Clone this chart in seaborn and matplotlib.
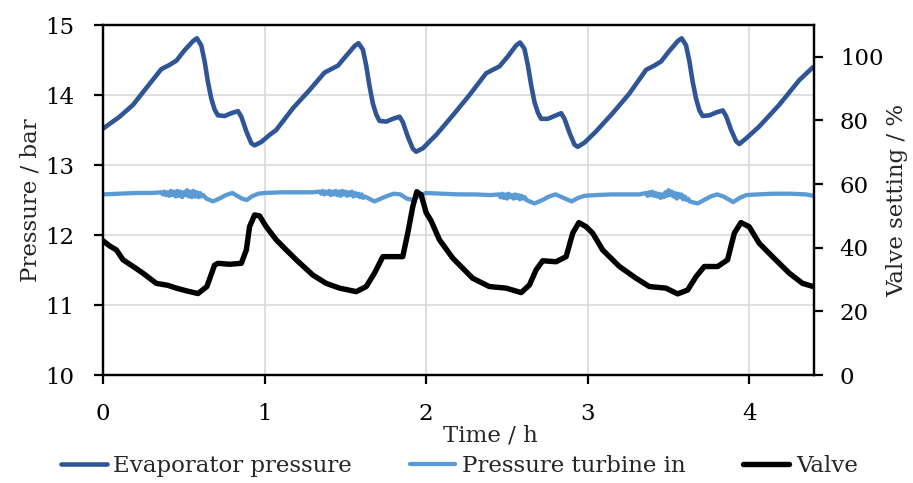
import numpy as np
import pandas as pd
import matplotlib
matplotlib.use("Agg")
import matplotlib.pyplot as plt
import seaborn as sns

# ---- data ----
evap_t = [0.000, 0.103, 0.186, 0.268, 0.361, 0.412, 0.454, 0.505, 0.557, 0.581, 0.608, 0.629,
          0.649, 0.670, 0.691, 0.711, 0.753, 0.794, 0.835, 0.856, 0.887, 0.918, 0.938, 0.980,
          1.031, 1.072, 1.175, 1.278, 1.371, 1.412, 1.454, 1.505, 1.557, 1.581, 1.608, 1.629,
          1.649, 1.670, 1.691, 1.711, 1.753, 1.794, 1.835, 1.856, 1.887, 1.918, 1.938, 1.980,
          2.031, 2.062, 2.165, 2.268, 2.371, 2.412, 2.454, 2.505, 2.557, 2.581, 2.608, 2.629,
          2.649, 2.670, 2.691, 2.711, 2.753, 2.794, 2.835, 2.856, 2.887, 2.918, 2.938, 2.980,
          3.051, 3.154, 3.257, 3.361, 3.412, 3.454, 3.505, 3.557, 3.581, 3.608, 3.629, 3.649,
          3.670, 3.691, 3.711, 3.753, 3.794, 3.835, 3.856, 3.887, 3.918, 3.938, 3.980, 4.061,
          4.185, 4.308, 4.395]
evap_p = [13.52, 13.69, 13.86, 14.10, 14.37, 14.43, 14.49, 14.64, 14.77, 14.81, 14.71, 14.48,
          14.19, 13.95, 13.79, 13.71, 13.70, 13.74, 13.77, 13.69, 13.48, 13.31, 13.28, 13.33,
          13.43, 13.50, 13.81, 14.07, 14.32, 14.37, 14.42, 14.56, 14.70, 14.74, 14.65, 14.42,
          14.13, 13.88, 13.72, 13.63, 13.62, 13.66, 13.69, 13.61, 13.40, 13.23, 13.19, 13.24,
          13.36, 13.43, 13.71, 14.00, 14.31, 14.36, 14.41, 14.55, 14.71, 14.75, 14.66, 14.43,
          14.15, 13.90, 13.75, 13.66, 13.66, 13.70, 13.74, 13.66, 13.46, 13.29, 13.26, 13.32,
          13.48, 13.74, 14.02, 14.36, 14.42, 14.48, 14.63, 14.77, 14.81, 14.71, 14.48, 14.19,
          13.95, 13.78, 13.70, 13.71, 13.75, 13.78, 13.70, 13.50, 13.34, 13.30, 13.38, 13.55,
          13.86, 14.21, 14.40]

turb_t = [0.00, 0.10, 0.20, 0.30,
          0.36, 0.37, 0.38, 0.39, 0.40, 0.41, 0.42, 0.43, 0.44, 0.45, 0.46, 0.47, 0.48, 0.49,
          0.50, 0.51, 0.52, 0.53, 0.54, 0.55, 0.56, 0.57, 0.58, 0.59, 0.60, 0.61, 0.62,
          0.64, 0.68, 0.72, 0.76, 0.80, 0.83, 0.86, 0.89, 0.92, 0.96, 1.00, 1.10, 1.20, 1.30,
          1.34, 1.35, 1.36, 1.37, 1.38, 1.39, 1.40, 1.41, 1.42, 1.43, 1.44, 1.45, 1.46, 1.47,
          1.48, 1.49, 1.50, 1.51, 1.52, 1.53, 1.54, 1.55, 1.56, 1.57, 1.58, 1.59, 1.60, 1.61,
          1.62,
          1.68, 1.72, 1.76, 1.80, 1.84, 1.88, 1.92, 1.96, 2.00, 2.10, 2.20, 2.30, 2.40,
          2.45, 2.46, 2.47, 2.48, 2.49, 2.50, 2.51, 2.52, 2.53, 2.54, 2.55, 2.56, 2.57, 2.58,
          2.59, 2.60, 2.61, 2.62,
          2.67, 2.72, 2.76, 2.80, 2.84, 2.87, 2.90, 2.94, 2.98, 3.05, 3.15, 3.25, 3.32,
          3.36, 3.37, 3.38, 3.39, 3.40, 3.41, 3.42, 3.43, 3.44, 3.45, 3.46, 3.47, 3.48, 3.49,
          3.50, 3.51, 3.52, 3.53, 3.54, 3.55, 3.56, 3.57, 3.58, 3.59, 3.60, 3.61, 3.62, 3.63,
          3.68, 3.72, 3.76, 3.80, 3.84, 3.87, 3.90, 3.94, 3.98, 4.05, 4.15, 4.25, 4.35, 4.395]
turb_p = [12.58, 12.59, 12.60, 12.60,
          12.61, 12.58, 12.62, 12.57, 12.61, 12.56, 12.63, 12.57, 12.62, 12.55, 12.63, 12.56,
          12.62, 12.54, 12.61, 12.57, 12.64, 12.55, 12.62, 12.54, 12.63, 12.55, 12.61, 12.54,
          12.60, 12.55, 12.57,
          12.52, 12.48, 12.52, 12.57, 12.60, 12.56, 12.52, 12.50, 12.55, 12.59, 12.60, 12.61,
          12.61, 12.61,
          12.62, 12.59, 12.63, 12.58, 12.62, 12.59, 12.63, 12.57, 12.62, 12.58, 12.63, 12.57,
          12.62, 12.56, 12.63, 12.58, 12.62, 12.56, 12.61, 12.57, 12.62, 12.55, 12.60, 12.56,
          12.59, 12.54, 12.58, 12.53, 12.55,
          12.48, 12.52, 12.56, 12.59, 12.58, 12.52, 12.50, 12.57, 12.60, 12.59, 12.58, 12.58,
          12.57,
          12.58, 12.54, 12.59, 12.53, 12.58, 12.52, 12.59, 12.54, 12.57, 12.52, 12.58, 12.53,
          12.57, 12.51, 12.56, 12.52, 12.54, 12.50,
          12.45, 12.50, 12.55, 12.58, 12.54, 12.51, 12.48, 12.53, 12.56, 12.57, 12.58, 12.58,
          12.58,
          12.60, 12.56, 12.61, 12.57, 12.62, 12.56, 12.60, 12.55, 12.59, 12.53, 12.58, 12.54,
          12.61, 12.56, 12.64, 12.57, 12.62, 12.55, 12.60, 12.52, 12.59, 12.54, 12.58, 12.51,
          12.55, 12.50, 12.52, 12.48,
          12.45, 12.50, 12.55, 12.58, 12.55, 12.51, 12.47, 12.53, 12.57, 12.58, 12.59, 12.59,
          12.58, 12.56]

valve_t = [0.000, 0.040, 0.083, 0.124, 0.190, 0.247, 0.330, 0.400, 0.454, 0.520, 0.588,
           0.643, 0.690, 0.711, 0.784, 0.856, 0.887, 0.907, 0.938, 0.969, 1.010, 1.072,
           1.134, 1.196, 1.299, 1.381, 1.464, 1.567, 1.629, 1.680, 1.732, 1.855, 1.886,
           1.917, 1.942, 1.969, 2.000, 2.030, 2.082, 2.165, 2.288, 2.391, 2.495, 2.588,
           2.639, 2.680, 2.721, 2.804, 2.866, 2.907, 2.945, 2.990, 3.030, 3.092, 3.196,
           3.299, 3.381, 3.484, 3.556, 3.618, 3.670, 3.721, 3.804, 3.865, 3.907, 3.948,
           3.999, 4.061, 4.143, 4.247, 4.329, 4.395]
valve_v = [42.2, 40.6, 39.3, 36.2, 34.0, 32.0, 28.8, 28.2, 27.3, 26.4, 25.6,
           27.8, 34.5, 35.1, 34.8, 35.1, 39.3, 46.6, 50.3, 50.0, 46.6, 42.5,
           39.3, 36.2, 31.4, 28.8, 27.3, 26.2, 27.8, 32.0, 37.2, 37.2, 44.6,
           52.9, 57.6, 56.6, 51.0, 48.5, 42.5, 36.7, 30.4, 27.8, 27.3, 25.9,
           28.3, 33.0, 35.9, 35.6, 37.2, 44.6, 47.9, 46.6, 44.6, 39.3, 34.1,
           30.4, 27.8, 27.3, 25.5, 26.7, 30.9, 34.1, 34.1, 36.2, 44.6, 47.9,
           46.6, 41.4, 37.2, 32.0, 28.8, 27.8]

x_ticks = [0, 1, 2, 3, 4]
left_ticks = [10, 11, 12, 13, 14, 15]
right_ticks = [0, 20, 40, 60, 80, 100]

C_EVAP = "#2F5597"
C_TURB = "#5B9BD5"
C_VALVE = "#000000"

# ---- style ----
sns.set_style("white")
plt.rcParams["font.family"] = ["DejaVu Serif"]
FS = 16.5

fig = plt.figure(figsize=(9.13, 4.83), dpi=100)
ax = fig.add_axes([103 / 913, 1 - 375 / 483, (814 - 103) / 913, (375 - 25) / 483])
ax2 = ax.twinx()

df_e = pd.DataFrame({"t": evap_t, "p": evap_p})
df_t = pd.DataFrame({"t": turb_t, "p": turb_p})
df_v = pd.DataFrame({"t": valve_t, "v": valve_v})

sns.lineplot(data=df_e, x="t", y="p", ax=ax, color=C_EVAP, lw=3.3, label="Evaporator pressure")
sns.lineplot(data=df_t, x="t", y="p", ax=ax, color=C_TURB, lw=3.1, label="Pressure turbine in")
sns.lineplot(data=df_v, x="t", y="v", ax=ax2, color=C_VALVE, lw=3.9, label="Valve")

for a in (ax, ax2):
    for ln in a.get_lines():
        ln.set_solid_joinstyle("round")
        ln.set_solid_capstyle("round")
    if a.get_legend() is not None:
        a.get_legend().remove()

ax.set_xlim(0, 4.4)
ax.set_ylim(10, 15)
ax2.set_ylim(0, 110)
ax.set_xticks(x_ticks)
ax.set_yticks(left_ticks)
ax2.set_yticks(right_ticks)
ax.set_xticklabels([str(v) for v in x_ticks])
ax.set_yticklabels([str(v) for v in left_ticks])
ax2.set_yticklabels([str(v) for v in right_ticks])

ax.grid(True, color="#D9D9D9", lw=1.2)
ax.set_axisbelow(True)
ax2.grid(False)

for a in (ax, ax2):
    for s in a.spines.values():
        s.set_visible(True)
        s.set_color("black")
        s.set_linewidth(1.6)

ax.tick_params(axis="x", direction="out", length=6.5, width=1.6, pad=14, labelsize=FS,
               bottom=True, colors="black")
ax.tick_params(axis="y", direction="out", length=6.5, width=1.6, pad=14, labelsize=FS,
               left=True, colors="black")
ax2.tick_params(axis="y", direction="out", length=6.5, width=1.6, pad=12, labelsize=FS,
                right=True, colors="black")

ax.set_xlabel("Time / h", fontsize=FS)
ax.xaxis.set_label_coords((490 - 103) / 711, -0.14)
ax.set_ylabel("Pressure / bar", fontsize=FS)
ax.yaxis.set_label_coords(-(103 - 42) / 711, 0.5)
ax2.set_ylabel("Valve setting / %", fontsize=FS)
ax2.yaxis.set_label_coords(1 + (886 - 814) / 711, 0.5)

h1, l1 = ax.get_legend_handles_labels()
h2, l2 = ax2.get_legend_handles_labels()
fig.legend(h1 + h2, l1 + l2, loc="center", bbox_to_anchor=(0.503, 0.036), ncol=3,
           frameon=False, fontsize=FS, handlelength=2.0, handletextpad=0.3,
           columnspacing=2.5, borderaxespad=0)

fig.savefig("out.png", dpi=100)
